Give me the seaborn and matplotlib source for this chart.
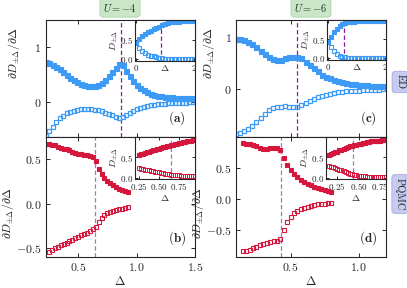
import matplotlib
matplotlib.use("Agg")
import matplotlib.pyplot as plt
import seaborn as sns
import numpy as np

# ---------------- data ----------------
# ED, U=-4 (panel a)
xa = [0.22, 0.25, 0.28, 0.31, 0.34, 0.37, 0.40, 0.43, 0.46, 0.49, 0.52, 0.55, 0.58, 0.61,
      0.64, 0.67, 0.70, 0.73, 0.76, 0.79, 0.82, 0.85, 0.88, 0.91, 0.94, 0.97, 1.00, 1.03,
      1.06, 1.09, 1.12, 1.15, 1.18, 1.21, 1.24, 1.27, 1.30, 1.33, 1.36, 1.39, 1.42, 1.45,
      1.48, 1.51]
a_plus = [0.73, 0.70, 0.67, 0.63, 0.59, 0.54, 0.49, 0.44, 0.40, 0.36, 0.33, 0.31, 0.295, 0.285,
          0.29, 0.31, 0.35, 0.40, 0.47, 0.54, 0.62, 0.69, 0.67, 0.57, 0.47, 0.38, 0.31, 0.25,
          0.21, 0.175, 0.15, 0.13, 0.115, 0.103, 0.094, 0.087, 0.082, 0.077, 0.073, 0.070, 0.067, 0.064,
          0.062, 0.060]
a_minus = [-0.62, -0.53, -0.45, -0.37, -0.30, -0.25, -0.21, -0.18, -0.16, -0.14, -0.13, -0.125, -0.125, -0.13,
           -0.14, -0.155, -0.175, -0.195, -0.22, -0.245, -0.27, -0.29, -0.28, -0.24, -0.20, -0.165, -0.135, -0.11,
           -0.09, -0.075, -0.062, -0.052, -0.044, -0.037, -0.032, -0.027, -0.023, -0.02, -0.017, -0.015, -0.012, -0.01,
           -0.008, -0.006]

# ED, U=-6 (panel c)
xc = [0.10, 0.13, 0.16, 0.19, 0.22, 0.25, 0.28, 0.31, 0.34, 0.37, 0.40, 0.43, 0.46, 0.49,
      0.52, 0.55, 0.58, 0.61, 0.64, 0.67, 0.70, 0.73, 0.76, 0.79, 0.82, 0.85, 0.88, 0.91,
      0.94, 0.97, 1.00, 1.03, 1.06, 1.09, 1.12, 1.15, 1.18, 1.21]
c_plus = [0.95, 0.945, 0.93, 0.90, 0.86, 0.80, 0.73, 0.67, 0.61, 0.565, 0.55, 0.56, 0.59, 0.605,
          0.61, 0.605, 0.58, 0.52, 0.45, 0.39, 0.33, 0.27, 0.23, 0.195, 0.165, 0.14, 0.12, 0.105,
          0.095, 0.085, 0.077, 0.070, 0.065, 0.060, 0.056, 0.052, 0.049, 0.046]
c_minus = [-0.87, -0.85, -0.82, -0.77, -0.71, -0.64, -0.56, -0.48, -0.42, -0.38, -0.36, -0.345, -0.34, -0.345,
           -0.35, -0.35, -0.32, -0.28, -0.24, -0.20, -0.165, -0.14, -0.12, -0.10, -0.085, -0.072, -0.062, -0.054,
           -0.047, -0.041, -0.036, -0.031, -0.027, -0.023, -0.02, -0.017, -0.014, -0.011]

# PQMC, U=-4 (panel b)
xb = [0.250, 0.275, 0.300, 0.325, 0.350, 0.375, 0.400, 0.425, 0.450, 0.475, 0.500, 0.525, 0.550, 0.575,
      0.600, 0.625, 0.650, 0.675, 0.700, 0.725, 0.750, 0.775, 0.800, 0.825, 0.850, 0.875, 0.900, 0.925]
b_plus = [0.675, 0.665, 0.655, 0.64, 0.63, 0.62, 0.61, 0.60, 0.585, 0.57, 0.56, 0.555, 0.55, 0.545,
          0.535, 0.53, 0.48, 0.39, 0.33, 0.285, 0.255, 0.23, 0.205, 0.19, 0.17, 0.155, 0.145, 0.13]
b_minus = [-0.54, -0.52, -0.50, -0.485, -0.47, -0.455, -0.44, -0.42, -0.405, -0.39, -0.37, -0.355, -0.34, -0.325,
           -0.305, -0.29, -0.265, -0.21, -0.16, -0.13, -0.11, -0.095, -0.085, -0.075, -0.065, -0.055, -0.048, -0.04]

# PQMC, U=-6 (panel d)
xd = [0.150, 0.175, 0.200, 0.225, 0.250, 0.275, 0.300, 0.325, 0.350, 0.375, 0.400, 0.425, 0.450, 0.475,
      0.500, 0.525, 0.550, 0.575, 0.600, 0.625, 0.650, 0.675, 0.700, 0.725, 0.750, 0.775, 0.800]
d_plus = [0.90, 0.895, 0.885, 0.87, 0.85, 0.825, 0.81, 0.815, 0.82, 0.82, 0.82, 0.79, 0.66, 0.55,
          0.47, 0.41, 0.355, 0.31, 0.27, 0.245, 0.22, 0.195, 0.175, 0.16, 0.145, 0.13, 0.115]
d_minus = [-0.84, -0.83, -0.81, -0.79, -0.77, -0.745, -0.72, -0.70, -0.69, -0.675, -0.665, -0.64, -0.50, -0.37,
           -0.29, -0.23, -0.19, -0.16, -0.135, -0.12, -0.105, -0.095, -0.085, -0.078, -0.07, -0.062, -0.055]

# Insets: D_{+-Delta}
xi = [0.0, 0.1, 0.2, 0.3, 0.4, 0.5, 0.6, 0.7, 0.8, 0.9, 1.0, 1.1, 1.2, 1.3, 1.4, 1.5, 1.6, 1.7, 1.8, 1.9, 2.0]
ia_plus = [0.41, 0.52, 0.59, 0.65, 0.69, 0.73, 0.76, 0.79, 0.83, 0.87, 0.90, 0.925, 0.94, 0.95, 0.955, 0.96,
           0.963, 0.966, 0.968, 0.97, 0.97]
ia_minus = [0.41, 0.29, 0.21, 0.16, 0.12, 0.095, 0.075, 0.06, 0.045, 0.03, 0.02, 0.015, 0.012, 0.01, 0.01, 0.009,
            0.008, 0.008, 0.007, 0.007, 0.007]
ic_plus = [0.44, 0.57, 0.68, 0.77, 0.85, 0.90, 0.93, 0.945, 0.955, 0.96, 0.963, 0.966, 0.968, 0.97, 0.97, 0.97,
           0.972, 0.972, 0.972, 0.973, 0.973]
ic_minus = [0.44, 0.30, 0.19, 0.12, 0.07, 0.04, 0.025, 0.018, 0.014, 0.012, 0.01, 0.009, 0.008, 0.008, 0.007, 0.007,
            0.007, 0.006, 0.006, 0.006, 0.006]
ib_plus = [0.56, 0.575, 0.59, 0.61, 0.625, 0.64, 0.655, 0.67, 0.685, 0.70, 0.715, 0.73, 0.745, 0.76,
           0.775, 0.79, 0.80, 0.815, 0.83, 0.84, 0.85, 0.86, 0.87, 0.88, 0.89, 0.90, 0.91, 0.92]
ib_minus = [0.23, 0.22, 0.21, 0.20, 0.19, 0.18, 0.17, 0.16, 0.15, 0.14, 0.13, 0.12, 0.11, 0.10,
            0.095, 0.088, 0.08, 0.072, 0.065, 0.06, 0.056, 0.052, 0.05, 0.047, 0.045, 0.043, 0.041, 0.04]
id_plus = [0.56, 0.58, 0.60, 0.62, 0.64, 0.67, 0.69, 0.71, 0.73, 0.75, 0.77, 0.785, 0.80, 0.815,
           0.83, 0.84, 0.85, 0.86, 0.87, 0.88, 0.89, 0.895, 0.90, 0.905, 0.91, 0.915, 0.92]
id_minus = [0.29, 0.27, 0.255, 0.24, 0.22, 0.20, 0.18, 0.16, 0.14, 0.12, 0.10, 0.085, 0.07, 0.06,
            0.05, 0.042, 0.036, 0.032, 0.028, 0.025, 0.024, 0.023, 0.022, 0.021, 0.02, 0.02, 0.02]

delta_c = {"a": 0.865, "b": 0.645, "c": 0.545, "d": 0.43}

# ---------------- style ----------------
sns.set_theme(style="ticks")
plt.rcParams.update({
    "font.family": "serif",
    "font.serif": ["cmr10"],
    "mathtext.fontset": "cm",
    "axes.formatter.use_mathtext": True,
    "axes.unicode_minus": True,
    "axes.linewidth": 0.8,
    "xtick.direction": "in",
    "ytick.direction": "in",
    "xtick.top": True,
    "ytick.right": True,
    "xtick.major.size": 3,
    "ytick.major.size": 3,
    "xtick.major.width": 0.7,
    "ytick.major.width": 0.7,
})

BLUE = "#3d9af5"
RED = "#d6173d"
PURP1 = "#8e1a9e"
PURP2 = "#b768d2"

W, H = 407, 288
fig = plt.figure(figsize=(W / 100, H / 100), dpi=100)


def rect(x0, y0, x1, y1):
    return [x0 / W, 1 - y1 / H, (x1 - x0) / W, (y1 - y0) / H]


def series(ax, x, y, color, filled, ms, mew=0.8):
    sns.lineplot(x=x, y=y, ax=ax, color=color, marker="s", linestyle="",
                 markersize=ms, markerfacecolor=color if filled else "none",
                 markeredgecolor=color, markeredgewidth=mew,
                 errorbar=None, estimator=None, sort=False)


axA = fig.add_axes(rect(45.5, 20, 195, 137))
axB = fig.add_axes(rect(45.5, 137, 195, 257))
axC = fig.add_axes(rect(236, 20, 386, 137))
axD = fig.add_axes(rect(236, 137, 386, 257))

series(axA, xa, a_plus, BLUE, True, 3.6)
series(axA, xa, a_minus, BLUE, False, 3.4, 0.9)
series(axC, xc, c_plus, BLUE, True, 3.6)
series(axC, xc, c_minus, BLUE, False, 3.4, 0.9)
series(axB, xb, b_plus, RED, True, 3.0)
series(axB, xb, b_minus, RED, False, 2.8)
series(axD, xd, d_plus, RED, True, 3.0)
series(axD, xd, d_minus, RED, False, 2.8)

for ax, k, col in [(axA, "a", PURP1), (axB, "b", PURP2), (axC, "c", PURP1), (axD, "d", PURP2)]:
    ax.axvline(delta_c[k], color=col, ls=(0, (3.5, 2)), lw=0.9, zorder=0)
    ax.text(0.88, 0.16, r"$(\mathbf{%s})$" % k, transform=ax.transAxes,
            ha="center", va="center", fontsize=9.5)
    ax.tick_params(labelsize=8.5, pad=3)
    ax.set_xlabel("")
    ax.set_ylabel(r"$\partial D_{\pm\Delta}/\partial\Delta$", fontsize=8.5)

axA.set_xlim(0.22, 1.5); axB.set_xlim(0.22, 1.5)
axC.set_xlim(0.1, 1.2); axD.set_xlim(0.1, 1.2)
axA.set_ylim(-0.64, 1.49)
axB.set_ylim(-0.6, 0.75)
axC.set_ylim(-0.93, 1.32)
axD.set_ylim(-0.93, 1.0)
axA.set_yticks([0, 1]); axC.set_yticks([0, 1])
axB.set_yticks([-0.5, 0, 0.5]); axD.set_yticks([-0.5, 0, 0.5])
axA.set_xticks([0.5, 1.0, 1.5]); axB.set_xticks([0.5, 1.0, 1.5])
axC.set_xticks([0.5, 1.0]); axD.set_xticks([0.5, 1.0])
axA.tick_params(labelbottom=False)
axC.tick_params(labelbottom=False)
axB.set_xlabel(r"$\Delta$", fontsize=9, labelpad=1)
axD.set_xlabel(r"$\Delta$", fontsize=9, labelpad=1)
axA.yaxis.set_label_coords(-0.155, 0.72)
axC.yaxis.set_label_coords(-0.125, 0.72)
axB.yaxis.set_label_coords(-0.2, 0.37)
axD.yaxis.set_label_coords(-0.2, 0.37)

# insets
iA = fig.add_axes(rect(135, 20, 195, 61))
iC = fig.add_axes(rect(327, 20, 386, 60))
iB = fig.add_axes(rect(135, 137, 195, 179))
iD = fig.add_axes(rect(326, 137, 386, 179))

series(iA, xi, ia_plus, BLUE, True, 2.8)
series(iA, xi, ia_minus, BLUE, False, 2.6)
series(iC, xi, ic_plus, BLUE, True, 2.8)
series(iC, xi, ic_minus, BLUE, False, 2.6)
series(iB, xb, ib_plus, RED, True, 2.4)
series(iB, xb, ib_minus, RED, False, 2.2, 0.7)
series(iD, xd, id_plus, RED, True, 2.4)
series(iD, xd, id_minus, RED, False, 2.2, 0.7)

for ax, k, col in [(iA, "a", PURP1), (iB, "b", PURP2), (iC, "c", PURP1), (iD, "d", PURP2)]:
    ax.set_facecolor("white")
    ax.axvline(delta_c[k], color=col, ls=(0, (3.5, 2)), lw=0.9, zorder=0)
    ax.tick_params(labelsize=6.5, pad=1.2, length=2)
    ax.set_yticks([0, 0.5])
    ax.set_ylabel(r"$D_{\pm\Delta}$", fontsize=7, labelpad=0)
    ax.set_xlabel("")

for ax in (iA, iC):
    ax.set_xlim(-0.05, 2.05)
    ax.set_ylim(-0.04, 1.0)
    ax.set_xticks([0, 2])
    ax.set_xlabel(r"$\Delta$", fontsize=7, labelpad=-7)

iB.set_xlim(0.2, 0.95)
iD.set_xlim(0.12, 0.82)
for ax in (iB, iD):
    ax.set_ylim(-0.03, 1.0)
    ax.set_xticks([0.25, 0.5, 0.75])
    ax.set_xlabel(r"$\Delta$", fontsize=7, labelpad=1)

# annotation boxes
fig.text(120 / W, 1 - 8 / H, r"$U=-4$", ha="center", va="center", fontsize=7.5,
         bbox=dict(boxstyle="round,pad=0.3", fc="#c9e7c6", ec="#a9d3a5", lw=0.6))
fig.text(311 / W, 1 - 8 / H, r"$U=-6$", ha="center", va="center", fontsize=7.5,
         bbox=dict(boxstyle="round,pad=0.3", fc="#c9e7c6", ec="#a9d3a5", lw=0.6))
fig.text(400 / W, 1 - 82 / H, "ED", ha="center", va="center", fontsize=7.5, rotation=-90,
         bbox=dict(boxstyle="round,pad=0.3", fc="#c8cbf0", ec="#a5aae0", lw=0.6))
fig.text(400 / W, 1 - 194 / H, "PQMC", ha="center", va="center", fontsize=7.5, rotation=-90,
         bbox=dict(boxstyle="round,pad=0.3", fc="#c8cbf0", ec="#a5aae0", lw=0.6))

fig.savefig("out.png", dpi=100)
